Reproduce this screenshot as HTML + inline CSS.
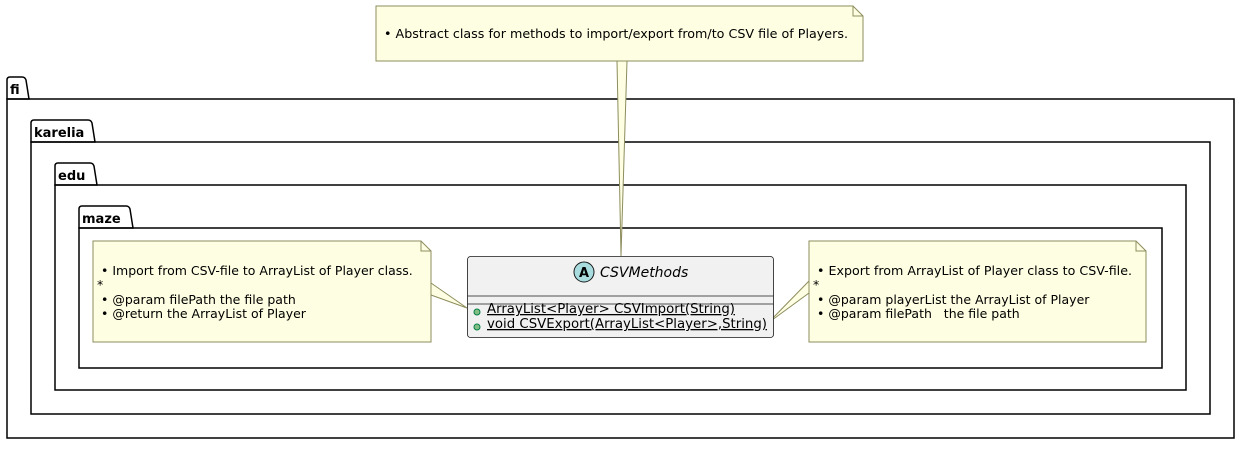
<!DOCTYPE html>
<html><head><meta charset="utf-8"><style>
html,body{margin:0;padding:0;background:#fff;}
svg text{font-family:"DejaVu Sans","Liberation Sans",sans-serif;}
</style></head><body>
<svg width="1240" height="446" viewBox="0 0 1240 446" xmlns="http://www.w3.org/2000/svg">
<g fill="none" stroke="#000" stroke-width="1.5">
<path d="M7,99 V80 Q7,77 10,77 H22 Q25,77 26,80 L29,99 Z"/><rect x="7" y="99" width="1227" height="339"/>
<path d="M31,142 V123 Q31,120 34,120 H88 Q91,120 92,123 L95,142 Z"/><rect x="31" y="142" width="1179" height="272"/>
<path d="M55,185 V166 Q55,163 58,163 H90 Q93,163 94,166 L97,185 Z"/><rect x="55" y="185" width="1131" height="205"/>
<path d="M79,228 V209 Q79,206 82,206 H126 Q129,206 130,209 L133,228 Z"/><rect x="79" y="228" width="1083" height="140"/>
</g>
<g font-size="13" font-weight="bold" fill="#000">
<text x="10" y="94">fi</text>
<text x="34" y="137">karelia</text>
<text x="58" y="180">edu</text>
<text x="82" y="223">maze</text>
</g>
<g fill="#fefee2" stroke="#8d8d5e" stroke-width="1">
<path d="M617,61 L621,256 L627,61 Z"/>
<path d="M431,283 L467,308 L431,295 Z"/>
<path d="M809,281 L768,323 L809,293 Z"/>
</g>
<g fill="#fefee2" stroke="#8d8d5e" stroke-width="1">
<path d="M376,6 H853 L863,16 V61 H376 Z"/><path d="M853,6 V16 H863" fill="none"/>
<path d="M93,241 H421 L431,251 V342 H93 Z"/><path d="M421,241 V251 H431" fill="none"/>
<path d="M809,241 H1136 L1146,251 V342 H809 Z"/><path d="M1136,241 V251 H1146" fill="none"/>
</g>
<g font-size="12.5" fill="#000">
<text x="384" y="38" textLength="464" lengthAdjust="spacingAndGlyphs">• Abstract class for methods to import/export from/to CSV file of Players.</text>
<text x="101" y="275">• Import from CSV-file to ArrayList of Player class.</text>
<text x="97" y="289">*</text>
<text x="101" y="304">• @param filePath the file path</text>
<text x="101" y="318">• @return the ArrayList of Player</text>
<text x="817" y="275" textLength="315" lengthAdjust="spacingAndGlyphs">• Export from ArrayList of Player class to CSV-file.</text>
<text x="813" y="289">*</text>
<text x="817" y="304">• @param playerList the ArrayList of Player</text>
<text x="817" y="318" xml:space="preserve">• @param filePath   the file path</text>
</g>
<rect x="467.5" y="256.5" width="306" height="81" rx="3" fill="#f1f1f1" stroke="#181818" stroke-width="0.8"/>
<line x1="467.5" y1="296" x2="773.5" y2="296" stroke="#181818" stroke-width="0.8"/>
<line x1="467.5" y1="304" x2="773.5" y2="304" stroke="#181818" stroke-width="0.8"/>
<circle cx="584" cy="272" r="10" fill="#a9dcdf" stroke="#181818" stroke-width="1"/>
<text x="584" y="277" font-size="13" font-weight="bold" text-anchor="middle" font-family="DejaVu Sans Mono">A</text>
<text x="600" y="277" font-size="14" font-style="italic">CSVMethods</text>
<circle cx="477" cy="312" r="3" fill="#84be84" stroke="#038048" stroke-width="1"/>
<circle cx="477" cy="327" r="3" fill="#84be84" stroke="#038048" stroke-width="1"/>
<g font-size="13" fill="#000" text-decoration="underline">
<text x="487" y="313" textLength="248" lengthAdjust="spacingAndGlyphs">ArrayList&lt;Player&gt; CSVImport(String)</text>
<text x="487" y="328" textLength="280" lengthAdjust="spacingAndGlyphs">void CSVExport(ArrayList&lt;Player&gt;,String)</text>
</g>
</svg>
</body></html>
